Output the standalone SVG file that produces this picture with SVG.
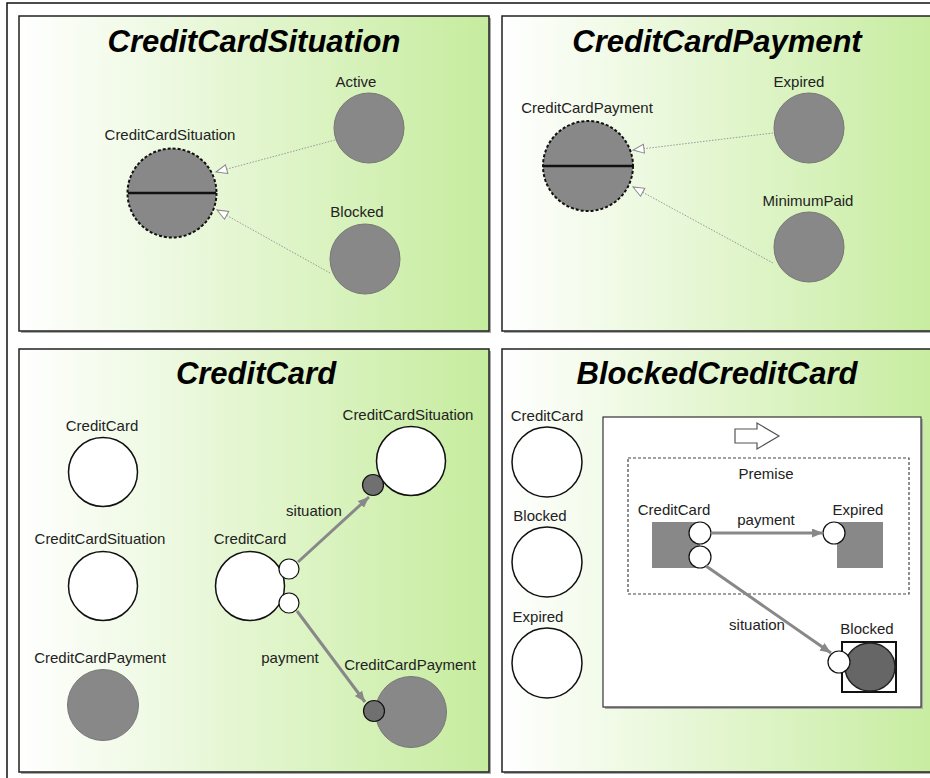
<svg xmlns="http://www.w3.org/2000/svg" width="930" height="778" viewBox="0 0 930 778">
<defs>
<linearGradient id="pg" x1="0" y1="0" x2="1" y2="0">
<stop offset="0" stop-color="#ffffff"/>
<stop offset="1" stop-color="#c6ec9e"/>
</linearGradient>
<marker id="hollow" markerUnits="userSpaceOnUse" markerWidth="14" markerHeight="12" refX="12" refY="5" orient="auto">
<path d="M1,0.5 L12,5 L1,9.5 z" fill="#ffffff" stroke="#888" stroke-width="1"/>
</marker>
<marker id="solid" markerUnits="userSpaceOnUse" markerWidth="12" markerHeight="10" refX="11" refY="4.5" orient="auto">
<path d="M0,0 L11,4.5 L0,9 z" fill="#888"/>
</marker>
</defs>
<style>
.panel{fill:url(#pg);stroke:#222;stroke-width:1.5}
.shadow{fill:#aaa}
.title{font-family:"Liberation Sans",Arial,sans-serif;font-weight:bold;font-style:italic;font-size:31px;fill:#000;text-anchor:middle}
.lbl{font-family:"Liberation Sans",Arial,sans-serif;font-size:15px;fill:#222;text-anchor:middle}
.gray{fill:#888;stroke:#777;stroke-width:1}
.white{fill:#fff;stroke:#111;stroke-width:1.5}
.abs{fill:#888;stroke:#111;stroke-width:2;stroke-dasharray:3 2}
.split{stroke:#111;stroke-width:2.5}
.port{fill:#fff;stroke:#111;stroke-width:1.2}
.dport{fill:#707070;stroke:#111;stroke-width:1.2}
.dotted{stroke:#999;stroke-width:1;stroke-dasharray:1.5 1.5;fill:none;marker-end:url(#hollow)}
.rel{stroke:#888;stroke-width:3;fill:none;marker-end:url(#solid)}
</style>
<rect x="0" y="0" width="930" height="778" fill="#fff"/>
<rect x="7" y="3" width="1000" height="1000" fill="#fff" stroke="#111" stroke-width="1.5"/>

<g id="panel-situation">
<rect class="shadow" x="21" y="18" width="470" height="315"/>
<rect class="panel" x="19" y="16" width="470" height="315"/>
<text class="title" x="254" y="52">CreditCardSituation</text>
</g>
<g id="panel-payment">
<rect class="shadow" x="504" y="18" width="440" height="315"/>
<rect class="panel" x="502" y="16" width="440" height="315"/>
<text class="title" x="717" y="52">CreditCardPayment</text>
</g>
<g id="panel-creditcard">
<rect class="shadow" x="21" y="351" width="470" height="423"/>
<rect class="panel" x="19" y="349" width="470" height="423"/>
<text class="title" x="256" y="384">CreditCard</text>
</g>
<g id="panel-blocked">
<rect class="shadow" x="504" y="351" width="440" height="423"/>
<rect class="panel" x="502" y="349" width="440" height="423"/>
<text class="title" x="717" y="384">BlockedCreditCard</text>
</g>

<g id="p1-CreditCardSituation">
<circle class="abs" cx="172" cy="193" r="44.5"/>
<line class="split" x1="128" y1="193" x2="216" y2="193"/>
<text class="lbl" x="170" y="140">CreditCardSituation</text>
</g>
<g id="p1-Active">
<circle class="gray" cx="369" cy="128" r="35"/>
<text class="lbl" x="356" y="87">Active</text>
</g>
<g id="p1-Blocked">
<circle class="gray" cx="365" cy="259" r="35"/>
<text class="lbl" x="357" y="217">Blocked</text>
</g>

<g id="p2-CreditCardPayment">
<circle class="abs" cx="588" cy="166" r="45"/>
<line class="split" x1="543" y1="166" x2="633" y2="166"/>
<text class="lbl" x="587" y="113">CreditCardPayment</text>
</g>
<g id="p2-Expired">
<circle class="gray" cx="809" cy="128" r="35"/>
<text class="lbl" x="799" y="87">Expired</text>
</g>
<g id="p2-MinimumPaid">
<circle class="gray" cx="809" cy="247" r="35"/>
<text class="lbl" x="808" y="206">MinimumPaid</text>
</g>

<g id="p3-CreditCard">
<circle class="white" cx="103" cy="472" r="34.5"/>
<text class="lbl" x="102" y="431">CreditCard</text>
</g>
<g id="p3-CreditCardSituation">
<circle class="white" cx="103" cy="586" r="34.5"/>
<text class="lbl" x="100" y="544">CreditCardSituation</text>
</g>
<g id="p3-CreditCardPayment">
<circle class="gray" cx="103" cy="705" r="35.5"/>
<text class="lbl" x="100" y="663">CreditCardPayment</text>
</g>
<g id="p3-CreditCard-inst">
<circle class="white" cx="250" cy="586" r="34.5"/>
<circle class="port" cx="289" cy="569" r="10"/>
<circle class="port" cx="289" cy="603" r="10"/>
<text class="lbl" x="250" y="544">CreditCard</text>
</g>
<g id="p3-CreditCardSituation-inst">
<circle class="white" cx="411" cy="461" r="34.5"/>
<circle class="dport" cx="373" cy="485" r="10.5"/>
<text class="lbl" x="408" y="420">CreditCardSituation</text>
</g>
<g id="p3-CreditCardPayment-inst">
<circle class="gray" cx="411" cy="712" r="35.5"/>
<circle class="dport" cx="374" cy="711" r="10.5"/>
<text class="lbl" x="410" y="670">CreditCardPayment</text>
</g>

<g id="p4-CreditCard">
<circle class="white" cx="547" cy="462" r="35"/>
<text class="lbl" x="547" y="421">CreditCard</text>
</g>
<g id="p4-Blocked">
<circle class="white" cx="547" cy="562" r="35"/>
<text class="lbl" x="540" y="521">Blocked</text>
</g>
<g id="p4-Expired">
<circle class="white" cx="547" cy="663" r="35"/>
<text class="lbl" x="538" y="622">Expired</text>
</g>
<g id="p4-rule">
<rect x="605" y="419" width="318" height="290" fill="#aaa"/>
<rect x="603" y="417" width="318" height="290" fill="#fff" stroke="#333" stroke-width="1.2"/>
<path d="M735,429 L757,429 L757,423 L779,436 L757,449 L757,443 L735,443 Z" fill="#fff" stroke="#555" stroke-width="1.2"/>
</g>
<g id="p4-premise">
<rect x="628" y="458" width="281" height="136" fill="#fff" stroke="#444" stroke-width="1.2" stroke-dasharray="3 2"/>
<text class="lbl" x="766" y="479">Premise</text>
</g>
<g id="p4-premise-CreditCard">
<rect x="652" y="522" width="48" height="46" fill="#888"/>
<circle class="port" cx="700" cy="533" r="11"/>
<circle class="port" cx="700" cy="557" r="11"/>
<text class="lbl" x="674" y="515">CreditCard</text>
</g>
<g id="p4-premise-Expired">
<rect x="837" y="522" width="46" height="46" fill="#888"/>
<circle class="port" cx="834" cy="533" r="11"/>
<text class="lbl" x="858" y="515">Expired</text>
</g>
<g id="p4-Blocked-inst">
<rect x="842" y="642" width="54" height="50" fill="#fff" stroke="#111" stroke-width="2"/>
<ellipse cx="870" cy="667" rx="25" ry="24" fill="#666" stroke="#222" stroke-width="1.5"/>
<circle class="port" cx="839" cy="662" r="11"/>
<text class="lbl" x="867" y="634">Blocked</text>
</g>

<g id="connectors">
<line class="dotted" x1="335" y1="140" x2="216" y2="172"/>
<line class="dotted" x1="330" y1="273" x2="217" y2="210"/>
<line class="dotted" x1="773" y1="133" x2="633" y2="150"/>
<line class="dotted" x1="773" y1="263" x2="633" y2="187"/>
<line class="rel" x1="298" y1="562" x2="369" y2="497"/>
<line class="rel" x1="297" y1="611" x2="365" y2="702"/>
<line class="rel" x1="711" y1="533" x2="823" y2="533"/>
<line class="rel" x1="706" y1="566" x2="831" y2="653"/>
<text class="lbl" x="314" y="516">situation</text>
<text class="lbl" x="290" y="663">payment</text>
<text class="lbl" x="766" y="525">payment</text>
<text class="lbl" x="757" y="630">situation</text>
</g>
</svg>
